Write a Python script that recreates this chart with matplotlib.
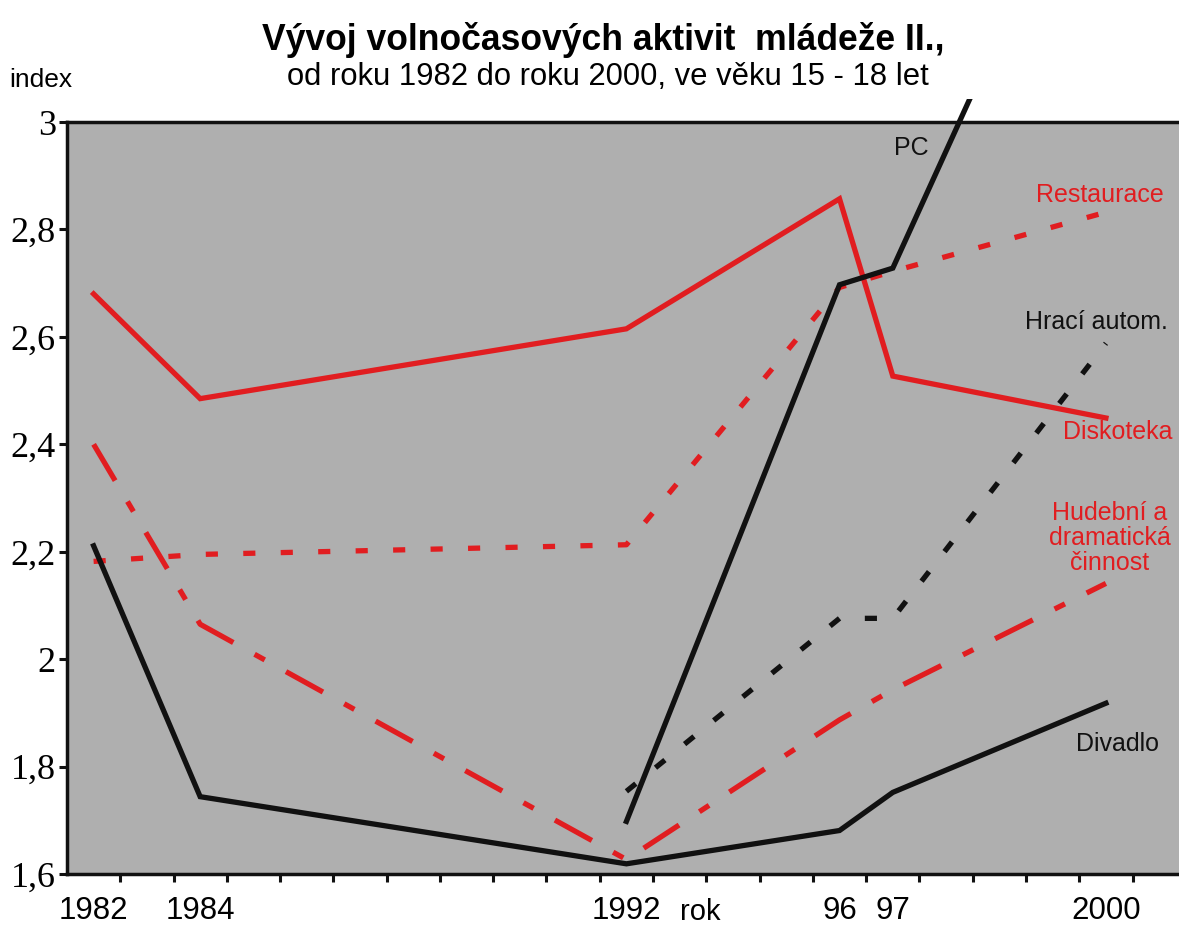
import matplotlib.pyplot as plt
from matplotlib.transforms import Bbox, TransformedBbox, blended_transform_factory

# roky a jejich pozice na kategorialni ose (1 dilek = 1 rok, 2000 je o dilek dal)
roky = ['1982', '1984', '1992', '96', '97', '2000']
pozice = [0, 2, 10, 14, 15, 19]

diskoteka = [2.68, 2.485, 2.615, 2.857, 2.527, 2.449]
restaurace = [2.182, 2.195, 2.213, 2.692, 2.722, 2.832]
hudebni = [2.40, 2.065, 1.627, 1.887, 1.943, 2.141]
divadlo = [2.211, 1.744, 1.619, 1.681, 1.752, 1.918]
pc_roky = [10, 14, 15, 19]
pc = [1.698, 2.697, 2.728, 3.6]
hraci_roky = [10, 14, 15, 19]
hraci = [1.754, 2.076, 2.076, 2.588]

RED = '#e11d20'
BLACK = '#111111'
GRAY = '#afafaf'

plt.rcParams['font.family'] = ['Liberation Sans', 'DejaVu Sans']

fig = plt.figure(figsize=(11.79, 9.25), dpi=100)
ax = fig.add_axes([0.0568, 0.0551, 0.949, 0.813])
ax.set_facecolor(GRAY)

lw = 3.8
ax.plot(pozice, diskoteka, color=RED, lw=lw, solid_joinstyle='miter')
ax.plot(pozice, restaurace, color=RED, lw=lw, dashes=(2.3, 4.8), dash_capstyle='butt')
ax.plot(pozice, hudebni, color=RED, lw=lw, dashes=(8, 4.6, 2.2, 4.6), dash_capstyle='butt')
ax.plot(pozice, divadlo, color=BLACK, lw=lw, solid_joinstyle='miter')
ax.plot(hraci_roky, hraci, color=BLACK, lw=lw, dashes=(2.3, 4.8), dash_capstyle='butt')
pc_line, = ax.plot(pc_roky, pc, color=BLACK, lw=lw, solid_joinstyle='miter')
# PC vybiha nad graf
pc_line.set_clip_box(TransformedBbox(Bbox([[0, 0], [1, 1.03]]), ax.transAxes))

ax.set_xlim(-0.5, 20.5)
ax.set_ylim(1.6, 3.0)

ax.set_xticks(pozice)
ax.set_xticklabels(roky, fontsize=22.5)
ax.set_xticks([k - 0.5 for k in range(1, 21)], minor=True)
ax.tick_params(axis='x', which='major', length=0, pad=16)
ax.tick_params(axis='x', which='minor', length=6, width=2.2, direction='out', color=BLACK)

yt = [1.6, 1.8, 2.0, 2.2, 2.4, 2.6, 2.8, 3.0]
ax.set_yticks(yt)
ax.set_yticklabels([('%g' % v).replace('.', ',') for v in yt],
                   fontsize=26, family='Liberation Serif')
ax.tick_params(axis='y', length=6, width=2.2, direction='out', pad=2, color=BLACK)

for s in ['left', 'bottom', 'top']:
    ax.spines[s].set_linewidth(2.5)
    ax.spines[s].set_color(BLACK)
ax.spines['right'].set_visible(False)

fs = 18
ax.text(15.35, 2.951, 'PC', color=BLACK, fontsize=fs, ha='center', va='center')
ax.text(18.88, 2.864, 'Restaurace', color=RED, fontsize=fs, ha='center', va='center')
ax.text(18.82, 2.628, 'Hrací autom.', color=BLACK, fontsize=fs, ha='center', va='center')
ax.text(19.22, 2.423, 'Diskoteka', color=RED, fontsize=fs, ha='center', va='center')
ax.text(19.07, 2.226, 'Hudební a\ndramatická\nčinnost', color=RED, fontsize=fs,
        ha='center', va='center', linespacing=1.05)
ax.text(19.22, 1.842, 'Divadlo', color=BLACK, fontsize=fs, ha='center', va='center')

tr = blended_transform_factory(ax.transData, ax.transAxes)
ax.text(11.38, -0.05, 'rok', transform=tr, fontsize=21, ha='center', va='center')

fig.text(0.512, 0.957, 'Vývoj volnočasových aktivit  mládeže II.,', fontsize=25.6,
         fontweight='bold', ha='center', va='center')
fig.text(0.516, 0.917, 'od roku 1982 do roku 2000, ve věku 15 - 18 let', fontsize=22.3,
         ha='center', va='center')
fig.text(0.035, 0.913, 'index', fontsize=19, ha='center', va='center')

fig.savefig('out.png', dpi=100)
